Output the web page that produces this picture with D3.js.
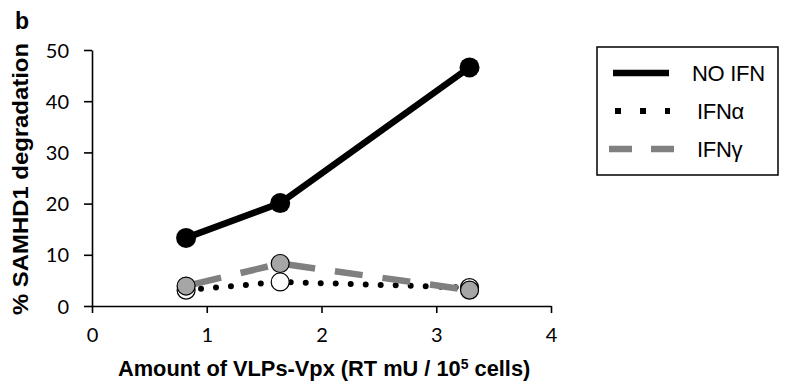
<!DOCTYPE html>
<html lang="en">
<head>
<meta charset="utf-8">
<title>SAMHD1 degradation</title>
<style>
  body { margin: 0; background: #fff; }
  svg { display: block; }
  .tick text { font-family: Lato, "Open Sans", sans-serif; font-size: 20px; fill: #000; }
</style>
</head>
<body>
<svg id="chart" width="791" height="390"></svg>
<script src="https://d3js.org/d3.v7.min.js"></script>
<script>
// values
const doses = [0.82, 1.64, 3.29];
const noIfn = [13.3, 20.1, 46.6];
const ifnAlpha = [3.1, 4.7, 3.6];
const ifnGamma = [3.9, 8.3, 3.1];
const seriesNames = ["NO IFN", "IFNα", "IFNγ"];
const xTicks = [0, 1, 2, 3, 4];
const yTicks = [0, 10, 20, 30, 40, 50];

const svg = d3.select("#chart");

const x = d3.scaleLinear().domain([0, 4]).range([92, 551]);
const y = d3.scaleLinear().domain([0, 50]).range([306, 50]);

// axes
const xAxis = d3.axisBottom(x).tickValues(xTicks).tickFormat(d3.format("d"))
  .tickSize(7).tickSizeOuter(0).tickPadding(14);
const yAxis = d3.axisLeft(y).tickValues(yTicks).tickFormat(d3.format("d"))
  .tickSize(8).tickSizeOuter(0).tickPadding(15);

const gx = svg.append("g").attr("transform", "translate(0,306)").call(xAxis);
const gy = svg.append("g").attr("transform", "translate(92,0)").call(yAxis);
[gx, gy].forEach(g => {
  g.select(".domain").attr("stroke", "#000").attr("stroke-width", 1.6);
  g.selectAll(".tick line").attr("stroke", "#000").attr("stroke-width", 1.6);
});
gx.selectAll(".tick text").attr("dy", "0.75em");
gy.selectAll(".tick text").attr("dy", "0.35em");

const line = d3.line().x((d, i) => x(doses[i])).y(d => y(d));

// IFN alpha: dotted black, white markers
svg.append("path").datum(ifnAlpha)
  .attr("d", line).attr("fill", "none")
  .attr("stroke", "#000").attr("stroke-width", 6)
  .attr("stroke-linecap", "round").attr("stroke-dasharray", "0 15");
svg.selectAll("circle.alpha").data(ifnAlpha).enter().append("circle")
  .attr("class", "alpha")
  .attr("cx", (d, i) => x(doses[i])).attr("cy", d => y(d)).attr("r", 9)
  .attr("fill", "#fff").attr("stroke", "#000").attr("stroke-width", 1.2);

// IFN gamma: dashed grey, grey markers
svg.append("path").datum(ifnGamma)
  .attr("d", line).attr("fill", "none")
  .attr("stroke", "#808080").attr("stroke-width", 6.5)
  .attr("stroke-dasharray", "28 20").attr("stroke-dashoffset", -8);
svg.selectAll("circle.gamma").data(ifnGamma).enter().append("circle")
  .attr("class", "gamma")
  .attr("cx", (d, i) => x(doses[i])).attr("cy", d => y(d)).attr("r", 9)
  .attr("fill", "#a6a6a6").attr("stroke", "#000").attr("stroke-width", 1.2);

// no IFN: solid black
svg.append("path").datum(noIfn)
  .attr("d", line).attr("fill", "none")
  .attr("stroke", "#000").attr("stroke-width", 6.5);
svg.selectAll("circle.noifn").data(noIfn).enter().append("circle")
  .attr("class", "noifn")
  .attr("cx", (d, i) => x(doses[i])).attr("cy", d => y(d)).attr("r", 10)
  .attr("fill", "#000");

// axis titles
svg.append("text")
  .attr("transform", "translate(28,179) rotate(-90)")
  .attr("text-anchor", "middle")
  .attr("font-family", "Liberation Sans, Arial, sans-serif")
  .attr("font-weight", "bold").attr("font-size", 22)
  .attr("textLength", 272).attr("lengthAdjust", "spacingAndGlyphs")
  .text("% SAMHD1 degradation");

const xt = svg.append("text")
  .attr("x", 118).attr("y", 376)
  .attr("font-family", "Liberation Sans, Arial, sans-serif")
  .attr("font-weight", "bold").attr("font-size", 21.8);
xt.append("tspan").text("Amount of VLPs-Vpx (RT mU / 10");
xt.append("tspan").attr("font-size", 14).attr("dy", -7).text("5");
xt.append("tspan").attr("dy", 7).text(" cells)");

svg.append("text")
  .attr("x", 15).attr("y", 29)
  .attr("font-family", "Liberation Sans, Arial, sans-serif")
  .attr("font-weight", "bold").attr("font-size", 23)
  .text("b");

// legend
const legend = svg.append("g");
legend.append("rect")
  .attr("x", 597).attr("y", 47).attr("width", 181).attr("height", 128)
  .attr("fill", "#fff").attr("stroke", "#000").attr("stroke-width", 1.5);

const legendStyles = [
  { stroke: "#000", width: 6.5, dash: null, x1: 613, x2: 669 },
  { stroke: "#000", width: 6, dash: "6 19", x1: 615, x2: 670 },
  { stroke: "#808080", width: 6.5, dash: "23 19", x1: 609, x2: 675 }
];
const legendY = d3.scalePoint().domain(seriesNames).range([73, 149]);
const legendTextX = [692, 697, 697];

seriesNames.forEach((name, i) => {
  const s = legendStyles[i];
  const ln = legend.append("line")
    .attr("x1", s.x1).attr("x2", s.x2)
    .attr("y1", legendY(name)).attr("y2", legendY(name))
    .attr("stroke", s.stroke).attr("stroke-width", s.width);
  if (s.dash) ln.attr("stroke-dasharray", s.dash);
  legend.append("text")
    .attr("x", legendTextX[i]).attr("y", legendY(name) + 8)
    .attr("font-family", "Liberation Sans, Arial, sans-serif")
    .attr("font-size", 22).attr("letter-spacing", -0.3)
    .text(name);
});
</script>
</body>
</html>
